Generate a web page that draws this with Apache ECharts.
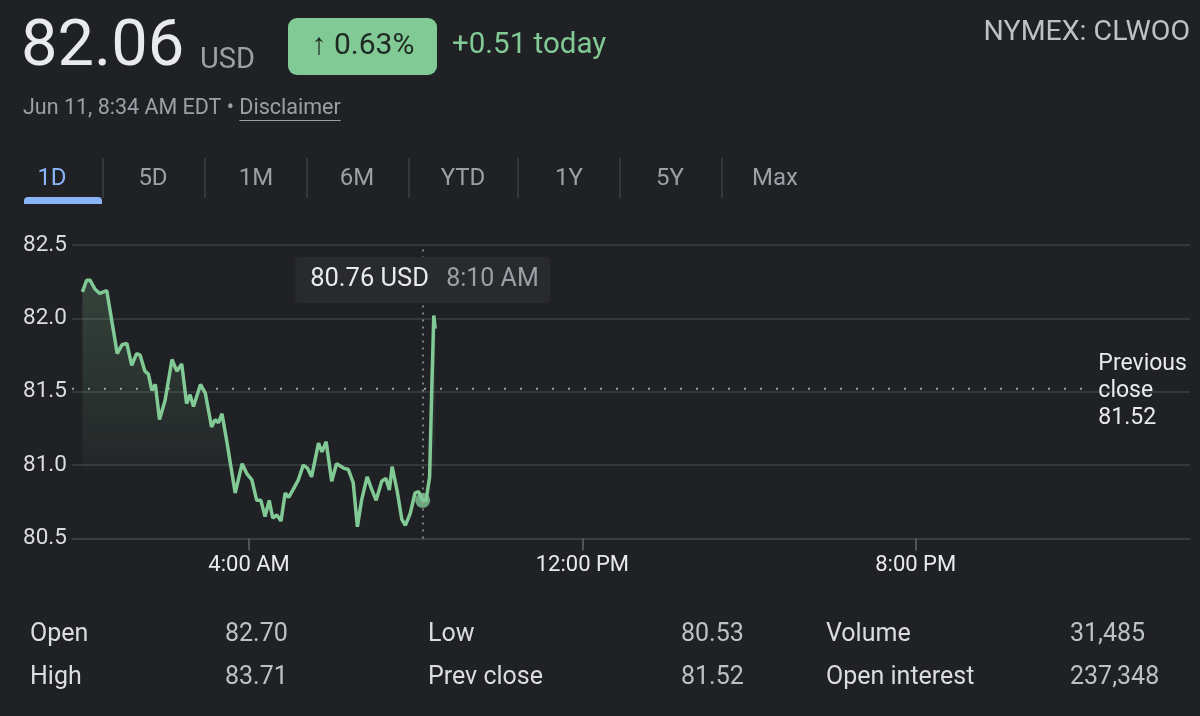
<!DOCTYPE html>
<html>
<head>
<meta charset="utf-8">
<script src="https://cdn.jsdelivr.net/npm/echarts@6/dist/echarts.min.js"></script>
<style>
html,body{margin:0;padding:0;background:#202124;}
#chart{width:1200px;height:716px;}
</style>
</head>
<body>
<div id="chart"></div>
<script>
// ---- data (minutes since midnight, price in USD) ----
const times = [0,6,11,18,25,35,47,50,57,64,71,78,83,90,95,100,105,111,119,129,136,143,150,155,160,170,177,186,191,196,201,208,220,230,237,244,251,257,263,269,274,280,286,292,297,303,311,318,324,330,340,345,351,359,366,376,383,390,396,402,410,417,423,431,437,442,446,453,460,465,472,479,484,490,495,500,503,506,508];
const prices = [82.18,82.26,82.26,82.20,82.17,82.19,81.85,81.76,81.82,81.83,81.68,81.76,81.75,81.64,81.62,81.51,81.55,81.31,81.44,81.72,81.64,81.69,81.42,81.48,81.40,81.55,81.49,81.26,81.31,81.29,81.35,81.16,80.81,81.01,80.94,80.90,80.76,80.76,80.65,80.76,80.64,80.66,80.62,80.81,80.78,80.83,80.90,81.00,80.98,80.92,81.15,81.09,81.16,80.89,81.01,80.98,80.97,80.88,80.58,80.76,80.92,80.83,80.76,80.89,80.91,80.83,80.99,80.83,80.63,80.59,80.67,80.81,80.82,80.76,80.76,80.92,81.50,82.02,81.93];
const prevClose = 81.52;
const prevCloseRange = [-15, 1440];
const hoverTime = 490;      // 8:10 AM
const hoverPrice = 80.76;
const xTickMinutes = [240, 720, 1200];
const yMin = 80.5, yMax = 82.5, yStep = 0.5;
const tabs = ['1D','5D','1M','6M','YTD','1Y','5Y','Max'];
const statLabels = [['Open','High'],['Low','Prev close'],['Volume','Open interest']];
const statValues = [['82.70','83.71'],['80.53','81.52'],['31,485','237,348']];

const FONT = 'Roboto';
const GREEN = '#81c995';

function fmtTime(m){
  const h24 = Math.floor(m/60), mm = m%60;
  const ap = h24 < 12 ? 'AM' : 'PM';
  let h = h24 % 12; if (h === 0) h = 12;
  return h + ':' + String(mm).padStart(2,'0') + ' ' + ap;
}
const mctx = document.createElement('canvas').getContext('2d');
function textW(t, font){ mctx.font = font; return mctx.measureText(t).width; }

const chart = echarts.init(document.getElementById('chart'), null, {renderer:'canvas'});

// header / tabs / stats graphics
const g = [];
g.push({type:'text', left:21, top:16, style:{text:'82.06', font:'65px '+FONT, fill:'#e8eaed'}});
g.push({type:'text', left:200, top:46, style:{text:'USD', font:'29px '+FONT, fill:'#9aa0a6'}});
g.push({type:'rect', shape:{x:288,y:18,width:149,height:57,r:9}, style:{fill:GREEN}});
g.push({type:'text', x:363, y:46, style:{text:'\u2191 0.63%', font:'30px '+FONT, fill:'#1f2a22', align:'center', verticalAlign:'middle'}});
g.push({type:'text', x:452, y:46, style:{text:'+0.51 today', font:'29.5px '+FONT, fill:GREEN, align:'left', verticalAlign:'middle'}});
g.push({type:'text', x:1190, y:33, style:{text:'NYMEX: CLWOO', font:'28.5px '+FONT, fill:'#bdc1c6', align:'right', verticalAlign:'middle'}});
const dateFont = '21.5px ' + FONT;
const dateText = 'Jun 11, 8:34 AM EDT \u2022 ';
const discX = 23 + textW(dateText, dateFont);
const discW = textW('Disclaimer', dateFont);
g.push({type:'text', x:23, y:109, style:{text:dateText, font:dateFont, fill:'#9aa0a6', align:'left', verticalAlign:'middle'}});
g.push({type:'text', x:discX, y:109, style:{text:'Disclaimer', font:dateFont, fill:'#9aa0a6', align:'left', verticalAlign:'middle'}});
g.push({type:'line', shape:{x1:discX,y1:120.5,x2:discX+discW,y2:120.5}, style:{stroke:'#9aa0a6', lineWidth:1.2}});

const tabCenters = [52,153,256,357,463,569,670,775];
const seps = [103,205,307,409,518,620,722];
tabs.forEach((t,i)=>{
  g.push({type:'text', x:tabCenters[i], y:179, style:{text:t, font:'24px '+FONT, fill: i===0 ? '#8ab4f8' : '#9aa0a6', align:'center', verticalAlign:'middle'}});
});
seps.forEach(x=>{
  g.push({type:'line', shape:{x1:x,y1:158,x2:x,y2:198}, style:{stroke:'#3c4043', lineWidth:1.5}});
});
g.push({type:'rect', shape:{x:24,y:197,width:78,height:7,r:[4,4,0,0]}, style:{fill:'#8ab4f8'}});

const colLabelX = [30, 428, 826];
const colValueX = [225, 681, 1070];
const rowY = [635, 678];
statLabels.forEach((col,ci)=>{
  col.forEach((lab,ri)=>{
    g.push({type:'text', x:colLabelX[ci], y:rowY[ri], style:{text:lab, font:'25px '+FONT, fill:'#dadce0', align:'left', verticalAlign:'middle'}});
    g.push({type:'text', x:colValueX[ci], y:rowY[ri], style:{text:statValues[ci][ri], font:'25px '+FONT, fill:'#bdc1c6', align:'left', verticalAlign:'middle'}});
  });
});

const option = {
  backgroundColor:'#202124',
  animation:false,
  grid:{left:72, right:10, top:245, bottom:177.5},
  xAxis:{
    type:'value', min:-15, max:1595,
    axisLine:{show:true, lineStyle:{color:'#3c4043', width:1.5}},
    axisTick:{show:true, customValues:xTickMinutes, length:12, lineStyle:{color:'#5f6368', width:1.5}},
    axisLabel:{show:true, customValues:xTickMinutes, formatter:v=>fmtTime(v), color:'#e8eaed', fontFamily:FONT, fontSize:22, margin:16},
    splitLine:{show:false}
  },
  yAxis:{
    type:'value', min:yMin, max:yMax, interval:yStep,
    axisLine:{show:false}, axisTick:{show:false},
    axisLabel:{formatter:v=>v.toFixed(1), color:'#dadce0', fontFamily:FONT, fontSize:22.5, align:'left', margin:49},
    splitLine:{show:true, lineStyle:{color:'#3c4043', width:1.5}}
  },
  series:[
    {
      type:'line', name:'prevClose',
      data: prevCloseRange.map(t=>[t, prevClose]),
      symbol:'none', silent:true, z:1,
      lineStyle:{color:'#9aa0a6', width:2, type:[2,14]},
      endLabel:{show:true, formatter:'Previous\nclose\n'+prevClose.toFixed(2), color:'#e8eaed', fontFamily:FONT, fontSize:23, lineHeight:27, distance:16, align:'left', offset:[0,2]}
    },
    {
      type:'line', name:'price',
      data: times.map((t,i)=>[t, prices[i]]),
      symbol:'none', z:3,
      lineStyle:{color:GREEN, width:3.5},
      areaStyle:{
        origin:'start',
        color:new echarts.graphic.LinearGradient(0, 270, 0, 470, [
          {offset:0, color:'rgba(129,201,149,0.30)'},
          {offset:0.97, color:'rgba(129,201,149,0.05)'},
          {offset:1, color:'rgba(129,201,149,0)'}
        ], true)
      },
      markLine:{
        silent:true, symbol:'none', label:{show:false},
        lineStyle:{color:'#9aa0a6', type:[2,5], width:1.5},
        data:[{xAxis:hoverTime}]
      }
    },
    {
      type:'scatter', name:'hover', z:4,
      data:[[hoverTime, hoverPrice]],
      symbolSize:15, itemStyle:{color:GREEN}
    }
  ],
  graphic:g
};
chart.setOption(option);

// tooltip box anchored on the hover point
const px = chart.convertToPixel({gridIndex:0}, [hoverTime, yMax]);
const boxW = 255, boxH = 46;
const bx = px[0] - boxW/2, by = px[1] + 12;
chart.setOption({graphic: g.concat([
  {type:'rect', z:100, shape:{x:bx, y:by, width:boxW, height:boxH, r:4}, style:{fill:'#292a2e'}},
  {type:'text', z:101, x:bx+15, y:by+boxH/2, style:{text:hoverPrice.toFixed(2)+' USD', font:'25.5px '+FONT, fill:'#e8eaed', align:'left', verticalAlign:'middle'}},
  {type:'text', z:101, x:bx+151, y:by+boxH/2, style:{text:fmtTime(hoverTime), font:'25px '+FONT, fill:'#9aa0a6', align:'left', verticalAlign:'middle'}}
])});
</script>
</body>
</html>
